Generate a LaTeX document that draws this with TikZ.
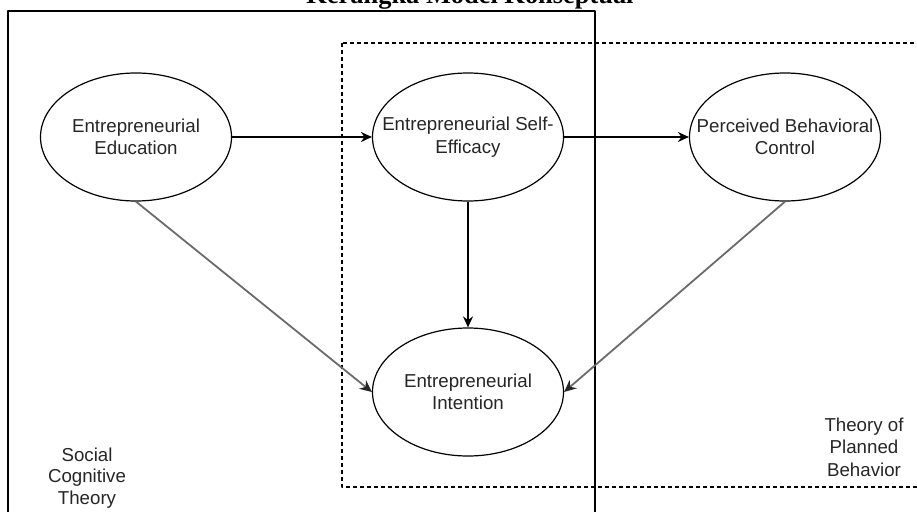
\documentclass[tikz,border=0pt]{standalone}
\usepackage{fontspec}
\setmainfont{Liberation Sans}
\newfontfamily\titlefont{Liberation Serif}
\usetikzlibrary{arrows.meta,shapes.geometric}

\begin{document}
\begin{tikzpicture}[x=1pt,y=-1pt,line join=round,
    font=\fontsize{18.7}{22.5}\selectfont,
    var/.style={draw,ellipse,line width=1.2pt,minimum width=191pt,minimum height=128pt,
        label={[align=center,text=black!85]center:#1}},
    link/.style={-{Stealth[length=11pt,width=10pt]},line width=1.2pt},
    sidelink/.style={-{Stealth[length=12pt,width=11pt,color=black!85]},line width=1.8pt,draw=black!58}]
    \useasboundingbox (0,0) rectangle (917,511);
    % judul
    \node[font=\titlefont\bfseries\fontsize{26.4}{30}\selectfont,anchor=base] (judul) at (470,4) {Kerangka Model Konseptual};
    % kerangka teori
    \draw[line width=1.3pt] (8,11) rectangle (595,530);
    \draw[line width=1.2pt,dash pattern=on 4pt off 3pt] (342,43) rectangle (940,487);
    \node[align=center,text=black!85,font=\fontsize{18.7}{21.5}\selectfont] (sct) at (87,478) {Social\\Cognitive\\Theory};
    \node[align=center,text=black!85,font=\fontsize{18.7}{22.5}\selectfont] (tpb) at (864,447) {Theory of\\Planned\\Behavior};
    % variabel
    \node[var={Entrepreneurial\\Education}] (edu) at (136,137) {};
    \node[var={Entrepreneurial Self-\\Efficacy}] (ese) at (468,137) {};
    \node[var={Perceived Behavioral\\Control}] (pbc) at (785,137) {};
    \node[var={Entrepreneurial\\Intention}] (ein) at (468,392) {};
    % hubungan
    \draw[link] (edu) -- (ese);
    \draw[link] (ese) -- (pbc);
    \draw[link] (ese) -- (ein);
    \draw[sidelink] (edu.south) -- (ein.west);
    \draw[sidelink] (pbc.south) -- (ein.east);
\end{tikzpicture}
\end{document}
